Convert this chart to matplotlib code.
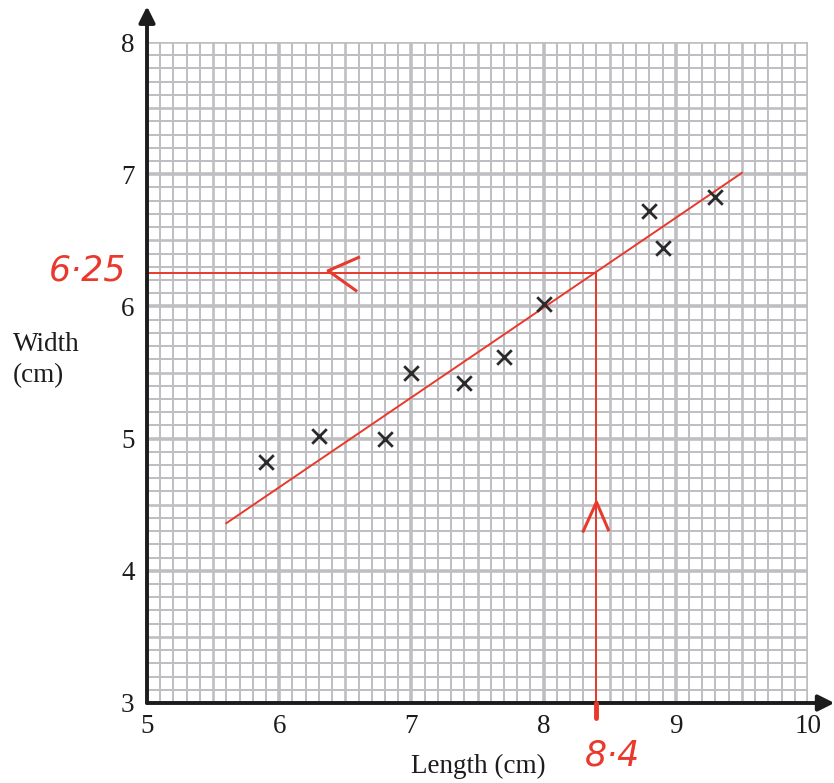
import numpy as np
import matplotlib.pyplot as plt

plt.rcParams['font.family'] = ['Liberation Serif', 'DejaVu Serif']

# scatter points
length = [5.9, 6.3, 6.8, 7.0, 7.4, 7.7, 8.0, 8.8, 8.9, 9.3]
width = [4.82, 5.02, 5.0, 5.5, 5.42, 5.62, 6.02, 6.72, 6.44, 6.83]

# line of best fit (end points)
fit_x = [5.6, 9.5]
fit_y = [4.36, 7.01]

# reading taken from the line
read_x = 8.4
read_y = 6.25

xticks = [5, 6, 7, 8, 9, 10]
yticks = [3, 4, 5, 6, 7, 8]

red = '#e8392c'
grey = '#bfbfc3'

fig = plt.figure(figsize=(8.34, 7.83), dpi=100)
ax = fig.add_axes([147 / 834, 1 - 703 / 783, 661 / 834, 661 / 783])
ax.set_xlim(5, 10)
ax.set_ylim(3, 8)


def grid_width(v):
    if abs(v - round(v)) < 1e-6:
        return 2.6
    if abs(v * 2 - round(v * 2)) < 1e-6:
        return 1.9
    return 1.45


# graph paper
for v in np.round(np.arange(5, 10.001, 0.1), 1):
    ax.axvline(v, color=grey, lw=grid_width(v), zorder=0)
for v in np.round(np.arange(3, 8.001, 0.1), 1):
    ax.axhline(v, color=grey, lw=grid_width(v), zorder=0)

for s in ax.spines.values():
    s.set_visible(False)

# axes with arrows
arrow = dict(arrowstyle='-|>,head_length=0.6,head_width=0.3', lw=2.8,
             color='#1c1c1c', mutation_scale=16, shrinkA=0, shrinkB=0)
ax.annotate('', xy=(5, 8.27), xytext=(5, 3), annotation_clip=False,
            arrowprops=arrow, zorder=5)
ax.annotate('', xy=(10.2, 3), xytext=(5, 3), annotation_clip=False,
            arrowprops=arrow, zorder=5)

ax.set_xticks(xticks)
ax.set_yticks(yticks)
ax.tick_params(length=0, labelsize=19.5, colors='#1c1c1c')
ax.tick_params(axis='x', pad=8)
ax.tick_params(axis='y', pad=9)

# data
ax.scatter(length, width, marker='x', s=110, color='#2a2a2a', linewidths=2, zorder=4)
ax.plot(fit_x, fit_y, color=red, lw=1.4, zorder=3)

# reading lines
ax.plot([5, read_x], [read_y, read_y], color=red, lw=1.4, zorder=3, clip_on=False)
ax.plot([read_x, read_x], [3, read_y], color=red, lw=1.4, zorder=3)
ax.plot([read_x, read_x], [3.0, 2.89], color=red, lw=3.5, zorder=6,
        clip_on=False, solid_capstyle='round')

# hand drawn arrow marks
ax.plot([read_x - 1.8, read_x - 2.03, read_x - 1.82],
        [read_y + 0.12, read_y + 0.02, read_y - 0.13],
        color=red, lw=2.2, zorder=3)
ax.plot([read_x - 0.1, read_x, read_x + 0.09],
        [4.3, 4.52, 4.31], color=red, lw=2.2, zorder=3)

ax.text(5 - 0.45, read_y + 0.02, '6·25', color=red, fontsize=25,
        family='DejaVu Sans', style='italic', weight='light',
        ha='center', va='center')
ax.text(read_x + 0.12, 2.6, '8·4', color=red, fontsize=25,
        family='DejaVu Sans', style='italic', weight='light',
        ha='center', va='center')

fig.text(13 / 834, 1 - 360 / 783, 'Width\n(cm)', fontsize=19.5, ha='left',
         va='center', linespacing=1.3, color='#1c1c1c')
fig.text(478 / 834, 1 - 766 / 783, 'Length (cm)', fontsize=19.5, ha='center',
         va='center', color='#1c1c1c')

fig.savefig('out.png', dpi=100)
